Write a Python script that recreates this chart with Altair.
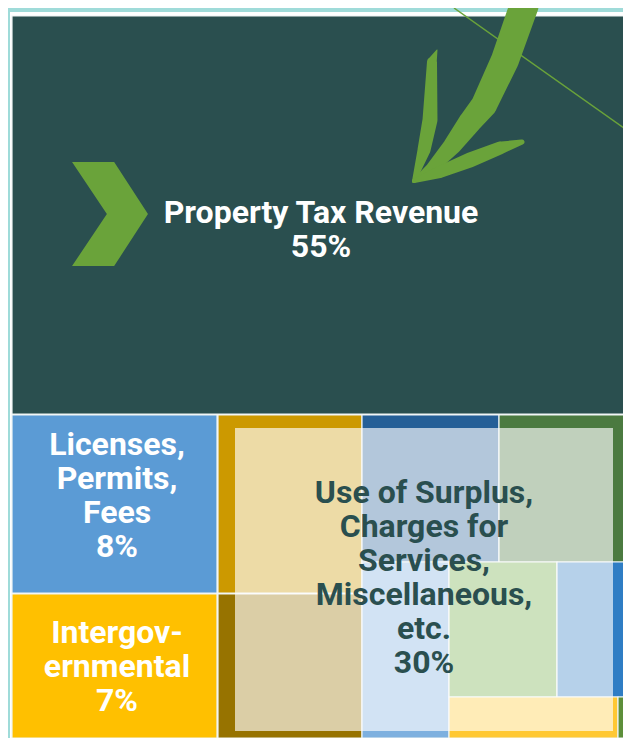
import altair as alt
import pandas as pd

# ---- treemap tiles (layout extents) ----
tile_names = ["Property Tax Revenue", "Licenses, Permits, Fees", "Intergovernmental",
              "Surplus A", "Surplus B", "Charges A", "Charges B", "Services A",
              "Services B", "Misc A", "Misc B", "Misc C"]
tile_x0 = [12, 12, 12, 218, 218, 362, 362, 499, 449, 557, 449, 618]
tile_x1 = [629, 217, 217, 362, 362, 499, 449, 629, 557, 629, 618, 629]
tile_y0 = [16, 415, 594, 415, 594, 415, 562, 415, 562, 562, 697, 697]
tile_y1 = [414, 593, 738, 593, 738, 562, 738, 562, 697, 697, 738, 738]
tile_colors = ["#2a4f4f", "#5b9bd5", "#ffc000", "#cc9900", "#977300", "#255f97",
               "#7eb0df", "#4b7a40", "#70ad47", "#2f7dc4", "#ffc833", "#5d8f3a"]

# frame
frame_x0 = [8, 10]
frame_x1 = [631, 631]
frame_y0 = [8, 12]
frame_y1 = [738, 738]
frame_colors = ["#9fdbd9", "#ffffff"]

# translucent panel over the "other" group
panel_x0 = [235]
panel_x1 = [613]
panel_y0 = [428]
panel_y1 = [731]

# labels
label_text = ["Property Tax Revenue\n55%",
              "Licenses,\nPermits,\nFees\n8%",
              "Intergov-\nernmental\n7%",
              "Use of Surplus,\nCharges for\nServices,\nMiscellaneous,\netc.\n30%"]
label_x = [321, 117, 117, 424]
label_y = [223, 455, 643, 503]
label_colors = ["#ffffff", "#ffffff", "#ffffff", "#2a4f4f"]

# decorative green arrow (trail segments) and thin line
arrow_seg = ["shaft"] * 7 + ["left"] * 5 + ["right"] * 5
arrow_x = [524, 505, 484, 470, 452, 432, 414,
           437, 432, 430, 424, 414,
           522, 500, 470, 440, 414]
arrow_y = [6, 60, 105, 122, 146, 168, 181,
           50, 62, 120, 150, 181,
           142, 148, 160, 172, 181]
arrow_w = [29, 28, 26, 23, 18, 12, 4,
           1, 10, 15, 13, 4,
           5, 13, 15, 12, 4]
line_x = [454, 631]
line_y = [8, 133]
chev_x = [110]
chev_y = [214]

GREEN = "#6aa33a"
LEFT, RIGHT = 8, 623
TOP, BOTTOM = 8, 738
XS = alt.Scale(domain=[LEFT, RIGHT], nice=False, zero=False)
YS = alt.Scale(domain=[BOTTOM, TOP], nice=False, zero=False)

frame_df = pd.DataFrame({"x0": frame_x0, "x1": frame_x1, "y0": frame_y0, "y1": frame_y1, "c": frame_colors})
tiles_df = pd.DataFrame({"name": tile_names, "x0": tile_x0, "x1": tile_x1, "y0": tile_y0, "y1": tile_y1, "c": tile_colors})
panel_df = pd.DataFrame({"x0": panel_x0, "x1": panel_x1, "y0": panel_y0, "y1": panel_y1})
label_df = pd.DataFrame({"t": label_text, "x": label_x, "y": label_y, "c": label_colors})
arrow_df = pd.DataFrame({"seg": arrow_seg, "x": arrow_x, "y": arrow_y, "w": arrow_w, "i": list(range(len(arrow_x)))})
line_df = pd.DataFrame({"x": line_x, "y": line_y})
chev_df = pd.DataFrame({"x": chev_x, "y": chev_y})


def rects(df, **kw):
    return alt.Chart(df).mark_rect(**kw).encode(
        x=alt.X("x0:Q", scale=XS, axis=None), x2="x1:Q",
        y=alt.Y("y0:Q", scale=YS, axis=None), y2="y1:Q",
    )

frame = rects(frame_df).encode(color=alt.Color("c:N", scale=None))
tiles = rects(tiles_df, stroke="#eef3f4", strokeWidth=1.2).encode(color=alt.Color("c:N", scale=None))
panel = rects(panel_df, color="#ffffff", opacity=0.65)

thin = alt.Chart(line_df).mark_line(color=GREEN, strokeWidth=1.5).encode(
    x=alt.X("x:Q", scale=XS, axis=None), y=alt.Y("y:Q", scale=YS, axis=None))

arrow = alt.Chart(arrow_df).mark_trail(color=GREEN).encode(
    x=alt.X("x:Q", scale=XS, axis=None), y=alt.Y("y:Q", scale=YS, axis=None),
    size=alt.Size("w:Q", scale=None), detail="seg:N", order="i:Q")

chev_path = "M -0.73 -1 L 0.08 -1 L 0.73 0 L 0.08 1 L -0.73 1 L -0.06 0 Z"
chev = alt.Chart(chev_df).mark_point(shape=chev_path, filled=True, size=10816,
                                     color=GREEN, opacity=1, strokeWidth=0).encode(
    x=alt.X("x:Q", scale=XS, axis=None), y=alt.Y("y:Q", scale=YS, axis=None))

labels = alt.Chart(label_df).mark_text(font="Roboto", fontWeight="bold", fontSize=32,
                                       lineBreak="\n", lineHeight=34, align="center",
                                       baseline="alphabetic").encode(
    x=alt.X("x:Q", scale=XS, axis=None), y=alt.Y("y:Q", scale=YS, axis=None),
    text="t:N", color=alt.Color("c:N", scale=None))

chart = alt.layer(frame, tiles, panel, thin, arrow, chev, labels).properties(
    width=RIGHT - LEFT, height=BOTTOM - TOP, padding=0, autosize=alt.AutoSizeParams(type="none")
).configure_view(stroke=None)

chart.save("out.html", embed_options={"renderer": "svg", "actions": False})
